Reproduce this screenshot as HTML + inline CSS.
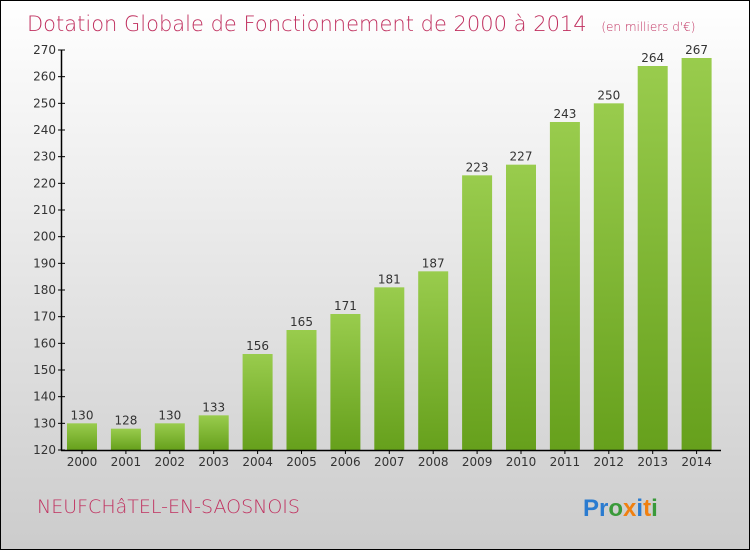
<!DOCTYPE html>
<html><head><meta charset="utf-8"><style>
body{margin:0;}
#c{position:relative;width:748px;height:548px;border:1px solid #000;background:linear-gradient(#ffffff,#cccccc);font-family:"DejaVu Sans","Liberation Sans",sans-serif;overflow:hidden}
</style></head><body>
<div id="c">
<svg id="s" width="748" height="548" xmlns="http://www.w3.org/2000/svg">
<defs><linearGradient id="g" x1="0" y1="0" x2="0" y2="1"><stop offset="0" stop-color="#99cc4d"/><stop offset="1" stop-color="#66a01c"/></linearGradient></defs>
<text x="26" y="30" font-size="21" fill="#c0305f" font-family="DejaVu Sans, sans-serif" font-weight="200">Dotation Globale de Fonctionnement de 2000 à 2014 <tspan font-size="12" dx="8">(en milliers d'€)</tspan></text>
<text x="36" y="512" font-size="19" fill="#c0305f" font-weight="200">NEUFCHâTEL-EN-SAOSNOIS</text>
<g font-size="24" font-weight="bold" font-family="Liberation Sans, sans-serif">
<text x="582" y="515"><tspan fill="#2a7bd0">Pr</tspan><tspan fill="#3a9a3a">o</tspan><tspan fill="#f08010">x</tspan><tspan fill="#2a7bd0">i</tspan><tspan fill="#f08010">t</tspan><tspan fill="#3a9a3a">i</tspan></text></g>
<g id="plot"></g>
</svg></div>
<script>
const years=["2000","2001","2002","2003","2004","2005","2006","2007","2008","2009","2010","2011","2012","2013","2014"];
const values=[130,128,130,133,156,165,171,181,187,223,227,243,250,264,267];
const yTicks=[120,130,140,150,160,170,180,190,200,210,220,230,240,250,260,270];
const ns="http://www.w3.org/2000/svg";
const g=document.getElementById('plot');
const y0=449,yMin=120,yMax=270,pxPer=400/(yMax-yMin);
function Y(v){return y0-(v-yMin)*pxPer;}
function X(i){return 81+i*43.9;}
function el(t,a,p){const e=document.createElementNS(ns,t);for(const k in a)e.setAttribute(k,a[k]);(p||g).appendChild(e);return e;}
years.forEach((yr,i)=>{
 const r=el('rect',{x:X(i)-15,y:Y(values[i]),width:30,height:y0-Y(values[i]),fill:'url(#g)'});
 
 
 const t=el('text',{x:X(i),y:Y(values[i])-4,'text-anchor':'middle','font-size':'12',fill:'#333'});
 t.textContent=values[i];
 
 
 const xl=el('text',{x:X(i),y:y0+16,'text-anchor':'middle','font-size':'12',fill:'#333'});
 xl.textContent=yr;
 
 
 el('line',{x1:X(i),x2:X(i),y1:y0,y2:y0+4,stroke:'#000'});
});
yTicks.forEach(v=>{
 el('line',{x1:57,x2:64,y1:Y(v),y2:Y(v),stroke:'#000'});
 const t=el('text',{x:55,y:Y(v)+4,'text-anchor':'end','font-size':'12',fill:'#333'});
 t.textContent=v;
 
 
});
const ax=el('line',{x1:60.5,x2:60.5,y1:Y(yMax),y2:y0,stroke:'#000','stroke-width':1.5});


const bx=el('line',{x1:60,x2:720,y1:y0+0.5,y2:y0+0.5,stroke:'#000','stroke-width':1.5});


</script>
</body></html>
